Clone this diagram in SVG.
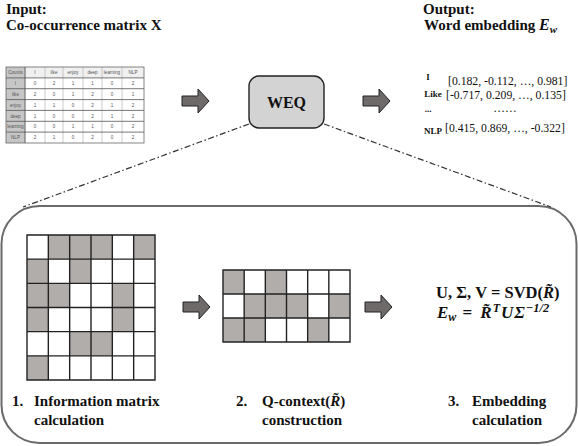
<svg xmlns="http://www.w3.org/2000/svg" xmlns:xlink="http://www.w3.org/1999/xlink" width="578" height="446" viewBox="0 0 578 446">
<defs>
<style>
.t{font-family:"Liberation Serif","Times New Roman",serif;fill:#111}
.b{font-weight:bold}
.bi{font-weight:bold;font-style:italic}
.tab{font-family:"Liberation Sans",Arial,sans-serif;font-size:4.6px;fill:#555;text-anchor:middle}
.arrow{fill:#6e6a6a;stroke:#222;stroke-width:1}
.dash{stroke:#333;stroke-width:1.2;fill:none;stroke-dasharray:6 2.5 1.5 2.5}
.g{fill:#b1adab}
.grid{fill:none;stroke:#222;stroke-width:1.4}
</style>
<path id="arr" class="arrow" d="M0,-5 H16 V-12 L27,0 L16,12 V5 H0 Z"/>
</defs>
<rect width="578" height="446" fill="#fff"/>

<g id="input-title">
<text class="t b" x="6" y="13.5" font-size="15">Input:</text>
<text class="t b" x="6" y="29.5" font-size="15">Co-occurrence matrix X</text>
</g>

<g id="cooccurrence-table">
<rect x="6" y="67" width="138" height="76" fill="#fff"/>
<rect x="6" y="67" width="19" height="76" fill="#c6c6c6"/>
<rect x="25" y="67" width="119" height="10.9" fill="#f0f0f0"/>
<path d="M25,67 V143 M45,67 V143 M63,67 V143 M83,67 V143 M102,67 V143 M122,67 V143" stroke="#b5b5b5" stroke-width="0.7"/>
<path d="M6,77.9 H144 M6,88.7 H144 M6,99.6 H144 M6,110.4 H144 M6,121.3 H144 M6,132.1 H144" stroke="#555" stroke-width="0.8"/>
<path d="M25,67 V143" stroke="#555" stroke-width="0.8"/>
<rect x="6" y="67" width="138" height="76" fill="none" stroke="#666" stroke-width="0.8"/>
<g class="tab">
<text x="15.5" y="74.2">Counts</text><text x="35" y="74.2">I</text><text x="54" y="74.2">like</text><text x="73" y="74.2">enjoy</text><text x="92.5" y="74.2">deep</text><text x="112" y="74.2">learning</text><text x="133" y="74.2">NLP</text>
<text x="15.5" y="85">I</text><text x="35" y="85">0</text><text x="54" y="85">2</text><text x="73" y="85">1</text><text x="92.5" y="85">1</text><text x="112" y="85">0</text><text x="133" y="85">2</text>
<text x="15.5" y="95.9">like</text><text x="35" y="95.9">2</text><text x="54" y="95.9">0</text><text x="73" y="95.9">1</text><text x="92.5" y="95.9">2</text><text x="112" y="95.9">0</text><text x="133" y="95.9">1</text>
<text x="15.5" y="106.7">enjoy</text><text x="35" y="106.7">1</text><text x="54" y="106.7">1</text><text x="73" y="106.7">0</text><text x="92.5" y="106.7">2</text><text x="112" y="106.7">1</text><text x="133" y="106.7">2</text>
<text x="15.5" y="117.6">deep</text><text x="35" y="117.6">1</text><text x="54" y="117.6">0</text><text x="73" y="117.6">0</text><text x="92.5" y="117.6">2</text><text x="112" y="117.6">1</text><text x="133" y="117.6">2</text>
<text x="15.5" y="128.4">learning</text><text x="35" y="128.4">0</text><text x="54" y="128.4">0</text><text x="73" y="128.4">1</text><text x="92.5" y="128.4">1</text><text x="112" y="128.4">0</text><text x="133" y="128.4">2</text>
<text x="15.5" y="139.3">NLP</text><text x="35" y="139.3">2</text><text x="54" y="139.3">1</text><text x="73" y="139.3">0</text><text x="92.5" y="139.3">2</text><text x="112" y="139.3">0</text><text x="133" y="139.3">2</text>
</g>
</g>

<g id="output-title">
<text class="t b" x="423" y="13.5" font-size="15">Output:</text>
<text class="t b" x="424" y="29.5" font-size="15">Word embedding <tspan class="bi" font-size="16">E</tspan><tspan class="bi" font-size="11" dy="3">w</tspan></text>
</g>

<g id="embeddings">
<text class="t b" x="428" y="80" font-size="9" text-anchor="middle">I</text>
<text class="t" x="448" y="85" font-size="11.7">[0.182, -0.112, …, 0.981]</text>
<text class="t b" x="433" y="97" font-size="9" text-anchor="middle">Like</text>
<text class="t" x="446" y="99" font-size="11.7">[-0.717, 0.209, …, 0.135]</text>
<text class="t b" x="428" y="112" font-size="9" text-anchor="middle">...</text>
<text class="t" x="505" y="112" font-size="11.7" text-anchor="middle">……</text>
<text class="t b" x="433" y="134" font-size="9" text-anchor="middle">NLP</text>
<text class="t" x="445" y="132" font-size="11.7">[0.415, 0.869, …, -0.322]</text>
</g>

<g id="weq">
<rect x="249" y="76" width="75" height="52" rx="10" fill="#d3d3d3" stroke="#222" stroke-width="1.4"/>
<text class="t b" x="286.5" y="107.5" font-size="16" text-anchor="middle">WEQ</text>
</g>

<g id="detail-panel">
<rect x="1.5" y="206" width="575" height="237" rx="38" fill="none" stroke="#6a6a6a" stroke-width="2"/>
</g>

<g id="info-matrix">
<rect class="g" x="48.33" y="235" width="21.34" height="24.17"/>
<rect class="g" x="69.67" y="235" width="21.33" height="24.17"/>
<rect class="g" x="91" y="235" width="21.33" height="24.17"/>
<rect class="g" x="133.67" y="235" width="21.33" height="24.17"/>
<rect class="g" x="27" y="259.17" width="21.33" height="24.16"/>
<rect class="g" x="69.67" y="259.17" width="21.33" height="24.16"/>
<rect class="g" x="27" y="283.33" width="21.33" height="24.17"/>
<rect class="g" x="48.33" y="283.33" width="21.34" height="24.17"/>
<rect class="g" x="112.33" y="283.33" width="21.34" height="24.17"/>
<rect class="g" x="27" y="307.5" width="21.33" height="24.17"/>
<rect class="g" x="112.33" y="307.5" width="21.34" height="24.17"/>
<rect class="g" x="69.67" y="331.67" width="21.33" height="24.16"/>
<rect class="g" x="91" y="331.67" width="21.33" height="24.16"/>
<rect class="g" x="27" y="355.83" width="21.33" height="24.17"/>
<path class="grid" d="M27,235 H155 V380 H27 Z M48.33,235 V380 M69.67,235 V380 M91,235 V380 M112.33,235 V380 M133.67,235 V380 M27,259.17 H155 M27,283.33 H155 M27,307.5 H155 M27,331.67 H155 M27,355.83 H155"/>
</g>

<g id="q-context">
<rect class="g" x="223" y="270" width="21.17" height="24"/>
<rect class="g" x="265.33" y="270" width="21.17" height="24"/>
<rect class="g" x="244.17" y="294" width="21.16" height="24"/>
<rect class="g" x="265.33" y="294" width="21.17" height="24"/>
<rect class="g" x="286.5" y="294" width="21.17" height="24"/>
<rect class="g" x="328.83" y="294" width="21.17" height="24"/>
<rect class="g" x="223" y="318" width="21.17" height="24"/>
<rect class="g" x="244.17" y="318" width="21.16" height="24"/>
<rect class="g" x="307.67" y="318" width="21.16" height="24"/>
<path class="grid" d="M223,270 H350 V342 H223 Z M244.17,270 V342 M265.33,270 V342 M286.5,270 V342 M307.67,270 V342 M328.83,270 V342 M223,294 H350 M223,318 H350"/>
</g>

<g id="formulas">
<text class="t b" x="436" y="298" font-size="16.5">U, Σ, V = SVD(<tspan class="bi">R̃</tspan>)</text>
<text class="t" x="437" y="318" font-size="17"><tspan class="bi">E</tspan><tspan class="bi" font-size="12" dy="3">w</tspan><tspan class="b" dy="-3" dx="2"> =</tspan><tspan class="bi" dx="8">R̃</tspan><tspan class="bi" font-size="12" dy="-6" dx="1">T</tspan><tspan class="bi" dy="6" dx="1">U</tspan><tspan class="bi" dx="1">Σ</tspan><tspan class="bi" font-size="12.5" dy="-6.5" dx="1">−1/2</tspan></text>
</g>

<g id="step-labels">
<text class="t b" x="12" y="406" font-size="15">1.</text>
<text class="t b" x="34" y="406" font-size="15">Information matrix</text>
<text class="t b" x="34" y="425" font-size="15">calculation</text>
<text class="t b" x="236" y="406" font-size="15">2.</text>
<text class="t b" x="262" y="406" font-size="15">Q-context(<tspan class="bi">R̃</tspan>)</text>
<text class="t b" x="262" y="425" font-size="15">construction</text>
<text class="t b" x="448" y="406" font-size="15">3.</text>
<text class="t b" x="472" y="406" font-size="15">Embedding</text>
<text class="t b" x="472" y="425" font-size="15">calculation</text>
</g>

<g id="connectors">
<use xlink:href="#arr" x="182" y="101"/>
<use xlink:href="#arr" x="363" y="101"/>
<use xlink:href="#arr" x="183" y="307"/>
<use xlink:href="#arr" x="365" y="307"/>
<path class="dash" d="M249,124 L23,207"/>
<path class="dash" d="M324,124 L551,207"/>
</g>
</svg>
